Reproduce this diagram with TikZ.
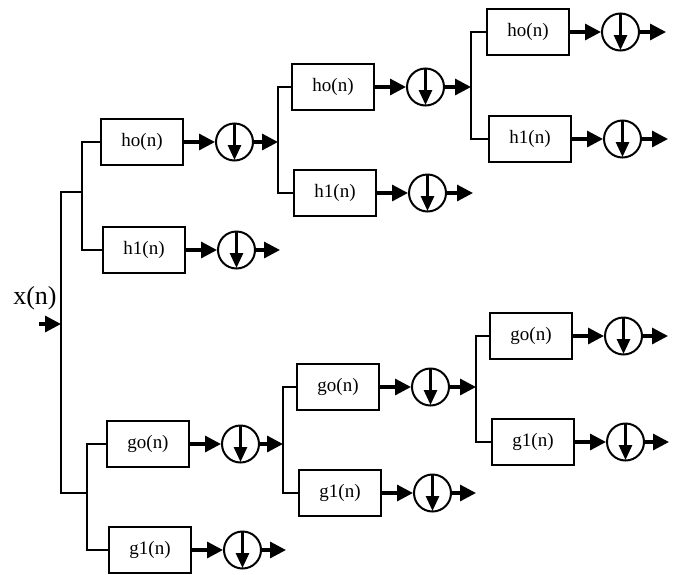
\documentclass[tikz,border=0pt]{standalone}
\usepackage{fontspec}
\setmainfont{Liberation Serif}
\usetikzlibrary{positioning,arrows.meta}

\tikzset{
  filt/.style={draw,line width=2pt,minimum width=82pt,minimum height=46pt,inner sep=0pt,font=\fontsize{19}{19}\selectfont},
  dsamp/.style={draw,circle,line width=2pt,minimum size=37pt,inner sep=0pt},
  wire/.style={line width=2pt},
  sig/.style={line width=3.2pt,-{Triangle[length=16pt,width=16pt]}},
  dn/.style={line width=2.8pt,-{Triangle[length=15pt,width=13pt]},shorten >=1.5pt}
}

\begin{document}
\begin{tikzpicture}[x=1pt,y=-1pt,node distance=31pt]
	\useasboundingbox (0,0) rectangle (673,574);
	% input
	\node[font=\fontsize{26}{26}\selectfont] (xn) at (35,298) {x(n)};
	\coordinate (in) at (61,324);
	\coordinate (in0) at (39,324);
	\coordinate (ta) at (82,192);
	\coordinate (tb) at (87,493);
	\draw[sig] (in0) -- (in);
	\draw[wire] (ta) -| (in) |- (tb);

	% upper tree
	\node[filt] (h0a) at (142,142) {ho(n)};
	\node[filt] (h1a) at (144,250) {h1(n)};
	\node[dsamp] (dh0a) [right= of h0a] {};
	\node[dsamp] (dh1a) [right= of h1a] {};
	\coordinate[right=24pt of dh0a] (ja);
	\coordinate[right=24pt of dh1a] (oh1a);

	\node[filt] (h0b) at (333,87) {ho(n)};
	\node[filt] (h1b) at (335,193) {h1(n)};
	\node[dsamp] (dh0b) [right= of h0b] {};
	\node[dsamp] (dh1b) [right= of h1b] {};
	\coordinate[right=26pt of dh0b] (jb);
	\coordinate[right=26pt of dh1b] (oh1b);

	\node[filt] (h0c) at (528,32) {ho(n)};
	\node[filt] (h1c) at (530,139) {h1(n)};
	\node[dsamp] (dh0c) [right= of h0c] {};
	\node[dsamp] (dh1c) [right= of h1c] {};
	\coordinate[right=26pt of dh0c] (oh0c);
	\coordinate[right=26pt of dh1c] (oh1c);

	% lower tree
	\node[filt] (g0a) at (148,444) {go(n)};
	\node[filt] (g1a) at (150,550) {g1(n)};
	\node[dsamp] (dg0a) [right= of g0a] {};
	\node[dsamp] (dg1a) [right= of g1a] {};
	\coordinate[right=23pt of dg0a] (ka);
	\coordinate[right=24pt of dg1a] (og1a);

	\node[filt] (g0b) at (338,387) {go(n)};
	\node[filt] (g1b) at (340,493) {g1(n)};
	\node[dsamp] (dg0b) [right= of g0b] {};
	\node[dsamp] (dg1b) [right= of g1b] {};
	\coordinate[right=26pt of dg0b] (kb);
	\coordinate[right=24pt of dg1b] (og1b);

	\node[filt] (g0c) at (531,336) {go(n)};
	\node[filt] (g1c) at (533,442) {g1(n)};
	\node[dsamp] (dg0c) [right= of g0c] {};
	\node[dsamp] (dg1c) [right= of g1c] {};
	\coordinate[right=25pt of dg0c] (og0c);
	\coordinate[right=24pt of dg1c] (og1c);

	% branches
	\draw[wire] (h0a.west) -| (ta) |- (h1a.west);
	\draw[wire] (h0b.west) -| (ja) |- (h1b.west);
	\draw[wire] (h0c.west) -| (jb) |- (h1c.west);
	\draw[wire] (g0a.west) -| (tb) |- (g1a.west);
	\draw[wire] (g0b.west) -| (ka) |- (g1b.west);
	\draw[wire] (g0c.west) -| (kb) |- (g1c.west);

	% signal arrows
	\path[sig]
	(h0a) edge (dh0a) (dh0a) edge (ja)
	(h1a) edge (dh1a) (dh1a) edge (oh1a)
	(h0b) edge (dh0b) (dh0b) edge (jb)
	(h1b) edge (dh1b) (dh1b) edge (oh1b)
	(h0c) edge (dh0c) (dh0c) edge (oh0c)
	(h1c) edge (dh1c) (dh1c) edge (oh1c)
	(g0a) edge (dg0a) (dg0a) edge (ka)
	(g1a) edge (dg1a) (dg1a) edge (og1a)
	(g0b) edge (dg0b) (dg0b) edge (kb)
	(g1b) edge (dg1b) (dg1b) edge (og1b)
	(g0c) edge (dg0c) (dg0c) edge (og0c)
	(g1c) edge (dg1c) (dg1c) edge (og1c)
	;

	% down-sampling arrows
	\path[dn]
	(dh0a.north) edge (dh0a.south)
	(dh1a.north) edge (dh1a.south)
	(dh0b.north) edge (dh0b.south)
	(dh1b.north) edge (dh1b.south)
	(dh0c.north) edge (dh0c.south)
	(dh1c.north) edge (dh1c.south)
	(dg0a.north) edge (dg0a.south)
	(dg1a.north) edge (dg1a.south)
	(dg0b.north) edge (dg0b.south)
	(dg1b.north) edge (dg1b.south)
	(dg0c.north) edge (dg0c.south)
	(dg1c.north) edge (dg1c.south)
	;
\end{tikzpicture}
\end{document}
